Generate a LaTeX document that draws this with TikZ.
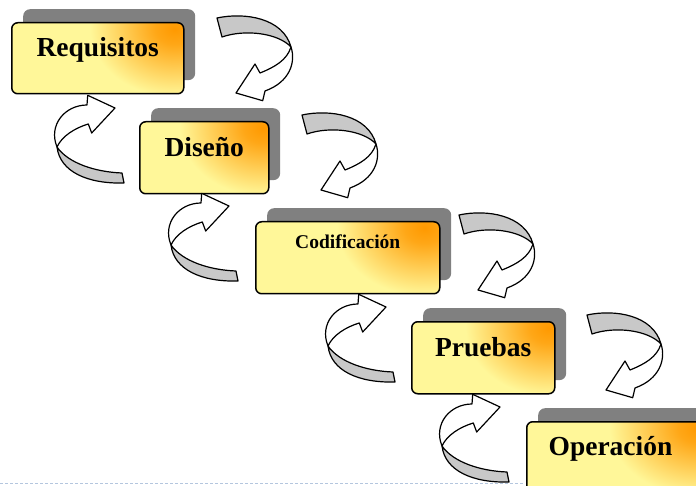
\documentclass[tikz,border=0pt]{standalone}
\usepackage{fontspec}
\setmainfont{Liberation Serif}
\definecolor{boxorange}{HTML}{FF9900}
\definecolor{boxyellow}{HTML}{FFF799}
\definecolor{shadowgray}{HTML}{808080}
\definecolor{bandgray}{HTML}{C8C8C8}
\definecolor{dashblue}{HTML}{B4C6DE}
\pgfdeclareradialshading{cornerglow}{\pgfpoint{0bp}{0bp}}{%
  color(0bp)=(boxorange); color(3bp)=(boxorange!85!boxyellow);
  color(13bp)=(boxyellow); color(50bp)=(boxyellow)}
\tikzset{
  shadowbox/.style={fill=shadowgray, draw=none, rounded corners=7pt, anchor=north west, inner sep=0pt},
  stagebox/.style={draw=black, line width=1.5pt, rounded corners=6pt, anchor=north west, inner sep=0pt,
    fill=boxyellow,
    path picture={\shade[shading=cornerglow]
      ([xshift=-6pt,yshift=-6pt]path picture bounding box.north east) ellipse (160pt and 130pt);}},
  stagetext/.style={anchor=base, inner sep=0pt, font=\bfseries\fontsize{27.5}{30}\selectfont},
  smalltext/.style={anchor=base, inner sep=0pt, font=\bfseries\fontsize{19.5}{22}\selectfont},
  arrowline/.style={draw=black, line width=1.2pt, line join=round},
  downturn/.pic={
    \draw[arrowline, fill=bandgray] (217,18) .. controls (245,12) and (283,18) .. (291,47)
      .. controls (278,33) and (245,29) .. (222,37) -- cycle;
    \draw[arrowline, fill=white] (291,47) .. controls (296,62) and (290,82) .. (265,91)
      -- (262.7,100.7) -- (236,93) -- (255,64) -- (260,73)
      .. controls (275,67) and (287,60) .. (291,47) -- cycle;
  },
  upturn/.pic={
    \draw[arrowline, fill=bandgray] (122,173) .. controls (95,172) and (68,163) .. (57,147)
      .. controls (60,172) and (88,184) .. (124,183) -- cycle;
    \draw[arrowline, fill=white] (57,147) .. controls (48,125) and (65,105) .. (87,105)
      -- (87.7,95.3) -- (115,108) -- (91.7,133) -- (88.3,124)
      .. controls (75,128) and (62,136) .. (57,147) -- cycle;
  }
}
\begin{document}
\begin{tikzpicture}[x=1pt,y=-1pt]
\useasboundingbox (0,0) rectangle (696,486);
\clip (0,0) rectangle (696,486);
\fill[white] (0,0) rectangle (696,486);

% dashed baseline
\coordinate (dl) at (0,483);
\coordinate (dr) at (523,483);
\draw[dashblue, line width=1pt, dash pattern=on 3pt off 2pt] (dl) -- (dr);

% shadows
\node[shadowbox, minimum width=172pt, minimum height=71pt] (req-s) at (23,9) {};
\node[shadowbox, minimum width=129pt, minimum height=72pt] (dis-s) at (151,108) {};
\node[shadowbox, minimum width=184pt, minimum height=72pt] (cod-s) at (267,208) {};
\node[shadowbox, minimum width=143pt, minimum height=72pt] (pru-s) at (423,308) {};
\node[shadowbox, minimum width=190pt, minimum height=72pt] (ope-s) at (538,408) {};

% boxes
\node[stagebox, minimum width=172pt, minimum height=71pt] (req) at (11,22) {};
\node[stagebox, minimum width=129pt, minimum height=72pt] (dis) at (139,121) {};
\node[stagebox, minimum width=184pt, minimum height=72pt] (cod) at (255,221) {};
\node[stagebox, minimum width=143pt, minimum height=72pt] (pru) at (411,321) {};
\node[stagebox, minimum width=190pt, minimum height=72pt] (ope) at (526,421) {};

% labels
\node[stagetext] (req-t) at ([yshift=-35pt]req.north) {Requisitos};
\node[stagetext] (dis-t) at ([yshift=-36pt]dis.north) {Diseño};
\node[smalltext] (cod-t) at ([yshift=-28pt]cod.north) {Codificación};
\node[stagetext] (pru-t) at ([yshift=-35pt]pru.north) {Pruebas};
\node[stagetext] (ope-t) at (610.5,455) {Operación};

% forward (down) turns
\pic at (0,0) {downturn};
\pic at (85,97) {downturn};
\pic at (242,197) {downturn};
\pic at (370,297) {downturn};

% backward (up) turns
\pic at (0,0) {upturn};
\pic at (114,98) {upturn};
\pic at (271,199) {upturn};
\pic at (385,299) {upturn};
\end{tikzpicture}
\end{document}
